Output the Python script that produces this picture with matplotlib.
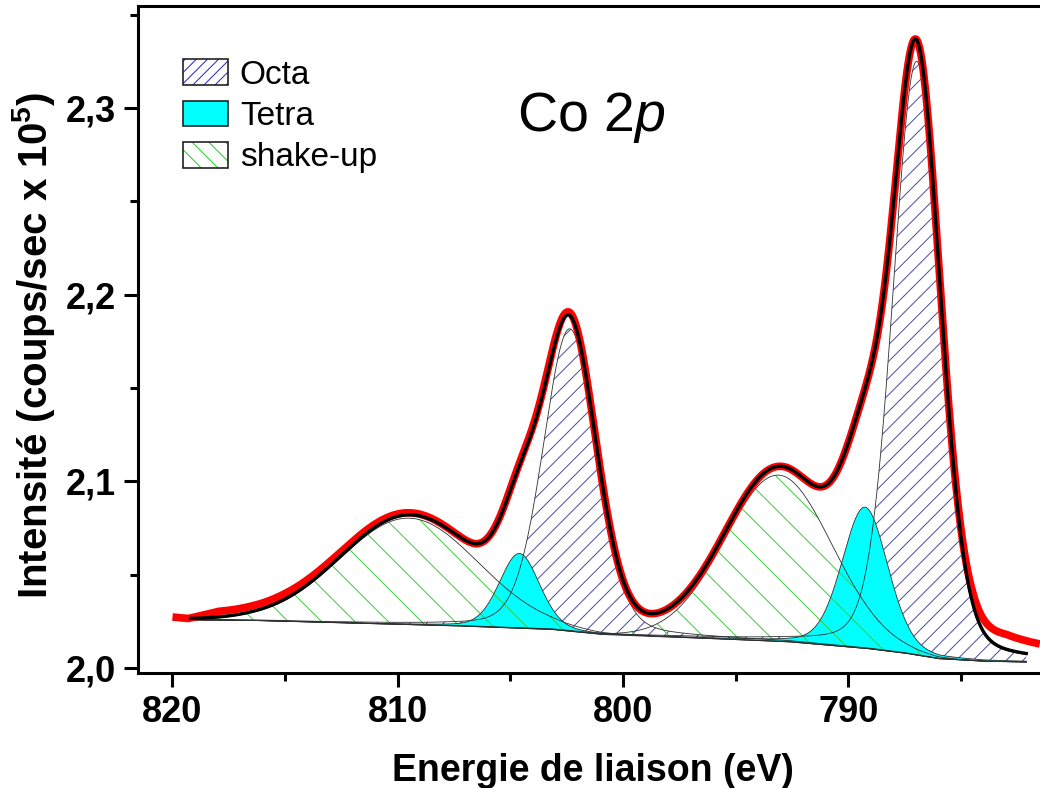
import numpy as np
import matplotlib
matplotlib.use("Agg")
import matplotlib.pyplot as plt
from matplotlib.patches import Patch
from matplotlib.legend_handler import HandlerTuple

plt.rcParams['font.family'] = ['Liberation Sans', 'DejaVu Sans']
plt.rcParams['mathtext.fontset'] = 'custom'
plt.rcParams['mathtext.rm'] = 'Liberation Sans'
plt.rcParams['mathtext.it'] = 'Liberation Sans:italic'
plt.rcParams['mathtext.bf'] = 'Liberation Sans:bold'
plt.rcParams['mathtext.default'] = 'regular'
plt.rcParams['hatch.linewidth'] = 0.7

# ---------------- data ----------------
# fitted components: pseudo-Voigt parameters
comp_type = ['Octa', 'Octa', 'Tetra', 'Tetra', 'shake-up', 'shake-up']
comp_center = [786.96, 802.36, 789.26, 804.60, 809.5, 793.1]   # eV
comp_height = [0.318, 0.162, 0.0756, 0.040, 0.057, 0.089]      # x1e5 counts/s
comp_fwhm = [2.5, 2.8, 2.4, 2.1, 7.2, 5.6]                      # eV
comp_lorentz = [0.2, 0.2, 0.2, 0.2, 0.0, 0.0]

# Shirley-type background
bg_energy = [819.2, 816.5, 812.9, 807.7, 803.2, 801.0, 797.0, 792.7, 789.2, 787.5, 786.0, 784.0, 782.0]
bg_value = [2.0258, 2.0255, 2.0243, 2.0227, 2.0207, 2.0180, 2.0162, 2.0141, 2.0105, 2.0080, 2.0050, 2.0036, 2.0032]

# measured spectrum: deviation from the fit envelope
raw_energy = [820.0, 819.3, 818.0, 815.0, 812.0, 806.5, 803.0, 800.0, 795.0, 790.0, 787.0, 785.5, 784.5, 783.0, 781.5]
raw_offset = [0.001, 0.000, 0.003, 0.003, 0.002, 0.000, 0.002, 0.000, 0.000, 0.000, 0.000, 0.002, 0.006, 0.008, 0.006]

fit_range = [819.2, 782.1]
raw_range = [820.0, 781.5]

xticks = [820, 810, 800, 790]
xtick_labels = ['820', '810', '800', '790']
yticks = [2.0, 2.1, 2.2, 2.3]
ytick_labels = ['2,0', '2,1', '2,2', '2,3']

styles = {
    'Octa': dict(face='white', hatch='//', hcol='#4a4aa0'),
    'Tetra': dict(face='#00FFFF', hatch=None, hcol='#00FFFF'),
    'shake-up': dict(face='none', hatch='\\', hcol='#3ccc3c'),
}


def pvoigt(e, c, h, w, m):
    x = (e - c) / w
    g = np.exp(-4 * np.log(2) * x ** 2)
    l = 1.0 / (1 + 4 * x ** 2)
    return h * ((1 - m) * g + m * l)


e_fit = np.linspace(fit_range[0], fit_range[1], 1500)
e_raw = np.linspace(raw_range[0], raw_range[1], 1500)
bg_fit = np.interp(e_fit, bg_energy[::-1], bg_value[::-1])
bg_raw = np.interp(e_raw, bg_energy[::-1], bg_value[::-1])

comps = [pvoigt(e_fit, c, h, w, m) for c, h, w, m in
         zip(comp_center, comp_height, comp_fwhm, comp_lorentz)]
comps_raw = [pvoigt(e_raw, c, h, w, m) for c, h, w, m in
             zip(comp_center, comp_height, comp_fwhm, comp_lorentz)]
envelope = bg_fit + np.sum(comps, axis=0)
raw = bg_raw + np.sum(comps_raw, axis=0) + np.interp(e_raw, raw_energy[::-1], raw_offset[::-1])

# ---------------- figure ----------------
fig = plt.figure(figsize=(10.4, 7.88), dpi=100)
ax = fig.add_axes([0.1327, 0.1459, 0.8673, 0.8465])
ax.set_xlim(821.53, 781.49)
ax.set_ylim(1.9973, 2.3546)

for kind in ['Octa', 'Tetra', 'shake-up']:
    st = styles[kind]
    for t, comp in zip(comp_type, comps):
        if t != kind:
            continue
        if st['hatch']:
            ax.fill_between(e_fit, bg_fit, bg_fit + comp, facecolor='none',
                            edgecolor=st['hcol'], hatch=st['hatch'], linewidth=0, zorder=2)
        else:
            ax.fill_between(e_fit, bg_fit, bg_fit + comp, facecolor=st['face'],
                            linewidth=0, zorder=2)

for comp in comps:
    ax.plot(e_fit, bg_fit + comp, color='#303030', lw=0.6, zorder=3)
ax.plot(e_fit, bg_fit, color='#303030', lw=0.7, zorder=3)

ax.plot(e_raw, raw, color='#ff0000', lw=5.5, zorder=4, solid_capstyle='butt')
ax.plot(e_fit, envelope, color='black', lw=2.4, zorder=5)

# axes styling
for s in ['left', 'bottom', 'top']:
    ax.spines[s].set_linewidth(2.2)
ax.spines['right'].set_visible(False)
ax.set_xticks(xticks)
ax.set_xticklabels(xtick_labels)
ax.set_yticks(yticks)
ax.set_yticklabels(ytick_labels)
ax.set_xticks([815, 805, 795, 785], minor=True)
ax.set_yticks([2.05, 2.15, 2.25, 2.35], minor=True)
ax.tick_params(which='major', direction='out', length=10, width=2.2, labelsize=26, pad=6)
ax.tick_params(which='minor', direction='out', length=5.5, width=2.2)
ax.tick_params(top=False, right=False)
for lab in ax.get_xticklabels() + ax.get_yticklabels():
    lab.set_fontweight('bold')

fig.text(0.0452, 0.5622, 'Intensité (coups/sec x 10$^{5}$)', rotation=90,
         rotation_mode='anchor', ha='center', va='baseline', fontsize=29, fontweight='bold')
fig.text(0.5697, 0.0085, 'Energie de liaison (eV)', ha='center', va='baseline',
         fontsize=27, fontweight='bold')

ax.text(801.42, 2.2877, 'Co $\\mathit{2p}$', ha='center', va='baseline', fontsize=40)

handles = []
for kind in ['Octa', 'Tetra', 'shake-up']:
    st = styles[kind]
    if st['hatch']:
        p1 = Patch(facecolor='white', edgecolor='#1f1fd0' if kind == 'Octa' else '#22cc22',
                   hatch='///' if kind == 'Octa' else '\\\\', linewidth=0)
    else:
        p1 = Patch(facecolor=st['face'], linewidth=0)
    p2 = Patch(facecolor='none', edgecolor='#222222', linewidth=1.2)
    handles.append((p1, p2))
leg = ax.legend(handles, ['Octa', 'Tetra', 'shake-up'], handler_map={tuple: HandlerTuple(ndivide=1, pad=0)},
                loc='upper left', bbox_to_anchor=(0.050, 0.920), frameon=False, fontsize=24,
                handlelength=1.35, handleheight=0.8, handletextpad=0.35, labelspacing=0.3,
                borderaxespad=0, borderpad=0)

fig.savefig('out.png', dpi=100)
